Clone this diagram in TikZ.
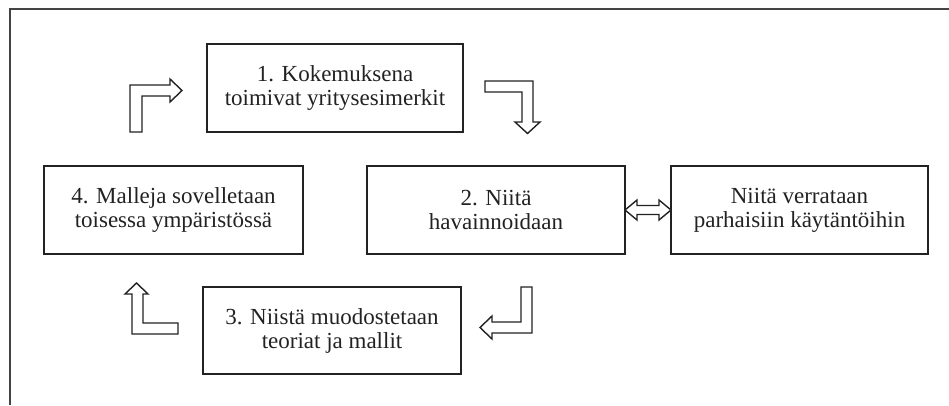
\documentclass[tikz,border=0pt]{standalone}
\usepackage{fontspec}
\setmainfont{Liberation Serif}
\usetikzlibrary{calc}
\definecolor{ink}{HTML}{222222}
\tikzset{
  box/.style={draw=ink, line width=1.6pt, inner sep=0pt, outer sep=0pt,
    minimum height=88pt, align=center, text=ink,
    font=\fontsize{23}{24}\selectfont},
  blockarrow/.style={draw=ink, line width=1.4pt, fill=white, line join=miter},
  frame/.style={draw=ink!85, line width=2pt}
}
\begin{document}
\begin{tikzpicture}[x=1pt,y=-1pt]
\useasboundingbox (0,0) rectangle (949,405);
% outer frame (cut on right and bottom)
\draw[frame] (10,405) -- (10,9) -- (949,9);
% boxes
\node[box, minimum width=256pt] (b1) at (335,88) {1. Kokemuksena\\toimivat yritysesimerkit};
\node[box, minimum width=258pt] (b2) at (496,210) {2. Niitä\\havainnoidaan};
\node[box, minimum width=257pt] (b5) at (799.5,210) {Niitä verrataan\\parhaisiin käytäntöihin};
\node[box, minimum width=258pt, minimum height=87pt] (b3) at (332,330.5) {3. Niistä muodostetaan\\teoriat ja mallit};
\node[box, minimum width=259pt] (b4) at (173.5,210) {4. Malleja sovelletaan\\toisessa ympäristössä};
% elbow block arrows
\draw[blockarrow] (130,132) -- (130,85) -- (170,85) -- (170,79) -- (182,90.5) -- (170,102) -- (170,96) -- (142,96) -- (142,132) -- cycle;
\draw[blockarrow] (485,81) -- (533,81) -- (533,122) -- (540,122) -- (527.5,133.5) -- (515,122) -- (522,122) -- (522,92) -- (485,92) -- cycle;
\draw[blockarrow] (521,287) -- (532,287) -- (532,333) -- (492,333) -- (492,339) -- (480,327.5) -- (492,316) -- (492,322) -- (521,322) -- cycle;
\draw[blockarrow] (178,334) -- (132,334) -- (132,294) -- (125,294) -- (136.5,283) -- (148,294) -- (143,294) -- (143,323) -- (178,323) -- cycle;
% double arrow between b2 and b5
\draw[blockarrow] (b2.east) -- ++(12,10) -- ++(0,-5.5) -- ($(b5.west)+(-12,4.5)$) -- ++(0,5.5) -- (b5.west) -- ++(-12,-10) -- ++(0,5.5) -- ($(b2.east)+(12,-4.5)$) -- ++(0,-5.5) -- cycle;
\end{tikzpicture}
\end{document}
